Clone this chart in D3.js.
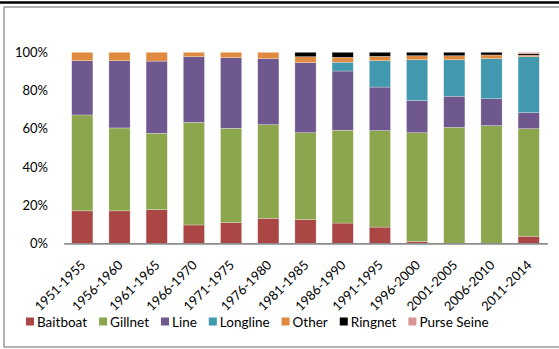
<!DOCTYPE html>
<html><head><meta charset="utf-8">
<script src="https://cdn.jsdelivr.net/npm/d3@7"></script>
<style>html,body{margin:0;padding:0;background:#fff;}svg{display:block;font-family:Lato,"Open Sans",sans-serif;}</style>
</head><body><svg id="c" width="559" height="349"></svg>
<script>
const categories = ["1951-1955","1956-1960","1961-1965","1966-1970","1971-1975","1976-1980","1981-1985","1986-1990","1991-1995","1996-2000","2001-2005","2006-2010","2011-2014"];
const seriesNames = ["Baitboat","Gillnet","Line","Longline","Other","Ringnet","Purse Seine"];
const baitboat   = [17.0,17.0,17.6, 9.6,10.8,13.1,12.4,10.6, 8.5, 1.0, 0.0, 0.0, 3.7];
const gillnet    = [50.2,43.4,40.0,53.7,49.4,49.0,45.5,48.6,50.5,56.9,60.7,61.6,56.3];
const line       = [28.4,35.2,37.8,34.4,37.0,34.6,36.7,31.0,22.8,16.8,16.3,14.1, 8.4];
const longline   = [ 0.0, 0.0, 0.0, 0.0, 0.0, 0.0, 0.0, 4.6,13.8,21.4,19.1,21.0,29.3];
const other      = [ 4.4, 4.4, 4.6, 2.3, 2.8, 3.3, 3.1, 2.6, 2.3, 2.1, 2.1, 1.9, 0.8];
const ringnet    = [ 0.0, 0.0, 0.0, 0.0, 0.0, 0.0, 2.3, 2.6, 2.1, 1.8, 1.8, 1.4, 0.8];
const purseSeine = [ 0.0, 0.0, 0.0, 0.0, 0.0, 0.0, 0.0, 0.0, 0.0, 0.0, 0.0, 0.0, 0.7];
const yTicks = [0,20,40,60,80,100];
const colors = ["#AA4744","#8BA64C","#6F588E","#4198AF","#DF8A3E","#000000","#D99694"];

const seriesVals = [baitboat,gillnet,line,longline,other,ringnet,purseSeine];
const table = categories.map((c,i)=>{const o={cat:c}; seriesNames.forEach((s,j)=>o[s]=seriesVals[j][i]); return o;});

const svg = d3.select("#c");
// frame
svg.append("rect").attr("x",4).attr("y",7).attr("width",600).attr("height",340)
  .attr("fill","none").attr("stroke","#9a9a9a").attr("stroke-width",1.5);
svg.append("line").attr("x1",0).attr("x2",559).attr("y1",2.5).attr("y2",2.5)
  .attr("stroke","#000").attr("stroke-width",2.5);

const x = d3.scaleBand().domain(categories).range([63.7,547.3]).paddingInner(0.43).paddingOuter(0.215);
const y = d3.scaleLinear().domain([0,100]).range([243.3,52.3]);

const stack = d3.stack().keys(seriesNames)(table);
svg.append("g").selectAll("g").data(stack).join("g")
  .attr("fill",(d,i)=>colors[i])
  .selectAll("rect").data(d=>d.filter(p=>p[1]-p[0]>0)).join("rect")
  .attr("x",d=>x(d.data.cat)).attr("width",x.bandwidth())
  .attr("y",d=>y(d[1])).attr("height",d=>y(d[0])-y(d[1]))
  .attr("stroke","rgba(255,255,255,0.45)").attr("stroke-width",0.6);

// y axis labels
const ya = svg.append("g").attr("transform","translate(48,0)")
  .call(d3.axisLeft(y).tickValues(yTicks).tickSize(0).tickPadding(0).tickFormat(d=>d+"%"));
ya.select(".domain").remove();
ya.selectAll("text").attr("font-size",13).attr("fill","#000").attr("font-family","Lato");

// x axis
const xa = svg.append("g").attr("transform","translate(0,243.3)")
  .call(d3.axisBottom(x).tickSize(0).tickSizeOuter(0));
xa.select(".domain").attr("stroke","#8c8c8c").attr("stroke-width",1.8);
xa.selectAll("text").attr("font-size",13).attr("fill","#000").attr("font-family","Lato")
  .attr("text-anchor","end").attr("dy",0).attr("y",0)
  .attr("transform","translate(4,22.5) rotate(-45)");

// legend
const lg = svg.append("g").attr("transform","translate(26,322)");
let cx = 0;
seriesNames.forEach((s,i)=>{
  const g = lg.append("g").attr("transform",`translate(${cx},0)`);
  g.append("rect").attr("x",0).attr("y",-4.5).attr("width",8).attr("height",8).attr("fill",colors[i]);
  const t = g.append("text").attr("x",11).attr("y",5).attr("font-size",13.5).attr("fill","#000").text(s);
  cx += 11 + t.node().getComputedTextLength() + 12;
});
</script></body></html>
